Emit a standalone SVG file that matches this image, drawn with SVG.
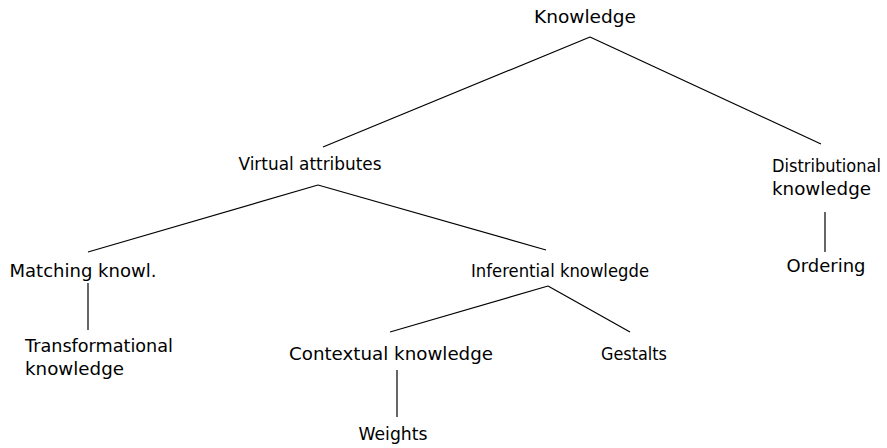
<svg xmlns="http://www.w3.org/2000/svg" width="887" height="448" viewBox="0 0 887 448">
<style>
text{font-family:"DejaVu Sans","Liberation Sans",sans-serif;font-size:18.5px;fill:#000}
.c{text-anchor:middle}
.e line{stroke:#000;stroke-width:1.2}
</style>
<rect width="887" height="448" fill="#fff"/>
<g class="e" id="connectors">
<line x1="590" y1="37" x2="323" y2="147"/>
<line x1="590" y1="37" x2="821" y2="144"/>
<line x1="318" y1="185" x2="88" y2="252"/>
<line x1="318" y1="185" x2="546" y2="250"/>
<line x1="548" y1="286" x2="390" y2="332"/>
<line x1="548" y1="286" x2="630" y2="332"/>
<line x1="825" y1="212" x2="825" y2="252"/>
<line x1="88" y1="283" x2="88" y2="330"/>
<line x1="397" y1="370" x2="397" y2="417"/>
</g>
<g id="n-knowledge"><text class="c" x="585" y="23" textLength="102" lengthAdjust="spacingAndGlyphs">Knowledge</text></g>
<g id="n-virtual"><text class="c" x="310" y="170" textLength="143" lengthAdjust="spacingAndGlyphs">Virtual attributes</text></g>
<g id="n-distributional"><text x="772" y="172" style="font-size:17px" textLength="109" lengthAdjust="spacingAndGlyphs">Distributional</text><text x="772" y="195" textLength="99" lengthAdjust="spacingAndGlyphs">knowledge</text></g>
<g id="n-ordering"><text class="c" x="826" y="272" textLength="79" lengthAdjust="spacingAndGlyphs">Ordering</text></g>
<g id="n-matching"><text class="c" x="83" y="277" textLength="147" lengthAdjust="spacingAndGlyphs">Matching knowl.</text></g>
<g id="n-transformational"><text x="25" y="352" textLength="148" lengthAdjust="spacingAndGlyphs">Transformational</text><text x="25" y="375" textLength="99" lengthAdjust="spacingAndGlyphs">knowledge</text></g>
<g id="n-inferential"><text class="c" x="560" y="277" textLength="178" lengthAdjust="spacingAndGlyphs">Inferential knowlegde</text></g>
<g id="n-contextual"><text class="c" x="391" y="360" textLength="204" lengthAdjust="spacingAndGlyphs">Contextual knowledge</text></g>
<g id="n-gestalts"><text class="c" x="634" y="360" textLength="66" lengthAdjust="spacingAndGlyphs">Gestalts</text></g>
<g id="n-weights"><text class="c" x="393" y="440" textLength="69" lengthAdjust="spacingAndGlyphs">Weights</text></g>
</svg>
